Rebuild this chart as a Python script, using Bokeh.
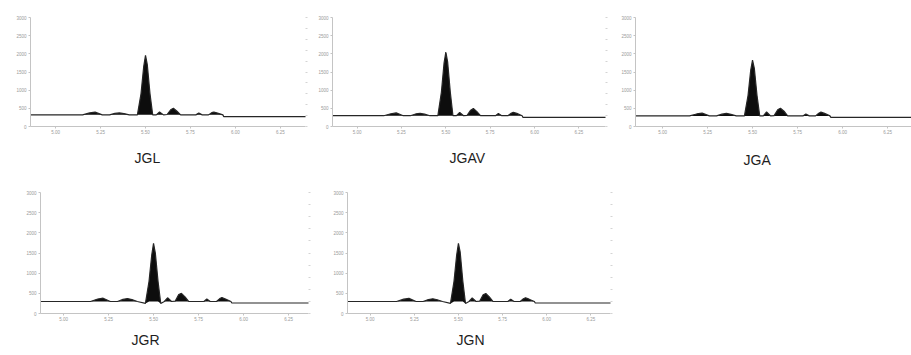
import numpy as np
from bokeh.plotting import figure
from bokeh.layouts import column, row
from bokeh.models import LinearAxis, FixedTicker, Range1d, NumeralTickFormatter, Title
from bokeh.embed import file_html
from bokeh.resources import INLINE

# ---- data -------------------------------------------------------------
names = ["JGL", "JGAV", "JGA", "JGR", "JGN"]
rt = [4.85, 5.15, 5.19, 5.22, 5.26, 5.30, 5.33, 5.355, 5.38, 5.41,
      5.455, 5.475, 5.49, 5.50, 5.51, 5.525, 5.54, 5.56, 5.578, 5.60,
      5.62, 5.64, 5.655, 5.675, 5.695, 5.78, 5.796, 5.815, 5.85, 5.868,
      5.88, 5.90, 5.93, 5.935, 6.41]
jgl = [320, 320, 375, 395, 320, 320, 360, 375, 355, 320,
       320, 900, 1650, 1960, 1700, 900, 320, 320, 400, 320,
       330, 460, 500, 420, 320, 320, 370, 320, 320, 380,
       400, 370, 320, 270, 270]
jgav = [297, 297, 350, 375, 297, 297, 345, 360, 340, 297,
        297, 950, 1750, 2050, 1780, 950, 297, 297, 390, 297,
        305, 450, 495, 410, 297, 297, 355, 297, 297, 365,
        390, 360, 297, 250, 250]
jga = [292, 292, 345, 370, 292, 292, 340, 360, 335, 292,
       292, 850, 1550, 1830, 1600, 850, 292, 292, 400, 292,
       300, 460, 505, 420, 292, 292, 345, 292, 292, 365,
       395, 360, 292, 250, 250]
jgr = [298, 298, 360, 380, 298, 298, 350, 370, 345, 298,
       250, 800, 1450, 1740, 1500, 800, 250, 298, 390, 298,
       305, 470, 500, 410, 298, 298, 360, 298, 298, 370,
       395, 360, 298, 260, 260]
jgn = [298, 298, 355, 375, 298, 298, 345, 365, 340, 298,
       250, 800, 1450, 1740, 1520, 800, 250, 298, 385, 298,
       305, 465, 495, 410, 298, 298, 355, 298, 298, 365,
       390, 355, 298, 260, 260]
baselines = [320, 297, 292, 298, 298]
x_ticks = [5.00, 5.25, 5.50, 5.75, 6.00, 6.25]
y_ticks = [0, 500, 1000, 1500, 2000, 2500, 3000]
y_minor = [0, 300, 600, 900, 1200, 1500, 1800, 2100, 2400, 2700, 3000]


def panel(name, y, base, w, h, bl, br, bt, bb, xr, toff, tstand, right_axis):
    p = figure(width=w, height=h, output_backend="svg", toolbar_location=None,
               x_range=Range1d(*xr), y_range=Range1d(0, 3000),
               min_border_left=bl, min_border_right=br,
               min_border_top=bt, min_border_bottom=bb, title=None)
    p.outline_line_color = None
    p.grid.visible = False
    p.background_fill_color = "white"
    p.border_fill_color = "white"

    x = np.array(rt)
    yy = np.array(y, dtype=float)
    floor = np.minimum(yy, base)
    p.varea(x=x, y1=floor, y2=yy, fill_color="#0d0d0d")
    p.line(x, yy, line_color="#262626", line_width=1.2)

    for ax in (p.xaxis[0], p.yaxis[0]):
        ax.axis_line_color = "#c4c4c4"
        ax.axis_line_width = 1
        ax.major_tick_line_color = "#c4c4c4"
        ax.major_tick_out = 2
        ax.major_tick_in = 0
        ax.minor_tick_line_color = None
        ax.major_label_text_font = "Liberation Sans"
        ax.major_label_text_font_size = "4.5px"
        ax.major_label_text_color = "#9a9a9a"
        ax.major_label_standoff = 2
    p.xaxis[0].major_label_standoff = 1
    p.xaxis[0].ticker = FixedTicker(ticks=x_ticks)
    p.xaxis[0].formatter = NumeralTickFormatter(format="0.00")
    p.yaxis[0].ticker = FixedTicker(ticks=y_ticks)

    if right_axis:
        ra = LinearAxis(ticker=FixedTicker(ticks=y_minor))
        ra.axis_line_color = None
        ra.major_tick_line_color = "#d4d4d4"
        ra.major_tick_out = 2
        ra.major_tick_in = 0
        ra.minor_tick_line_color = None
        ra.major_label_text_font_size = "0px"
        ra.major_label_text_color = None
        p.add_layout(ra, "right")

    t = Title(text=name, align="left", offset=toff, standoff=tstand,
              text_font="Liberation Sans", text_font_size="14px",
              text_font_style="normal", text_color="#1e1e1e")
    p.add_layout(t, "below")
    return p


p1 = panel(names[0], jgl, baselines[0], 315, 180, 30, 10, 15, 52,
           (4.861, 6.389), 104, 23, True)
p2 = panel(names[1], jgav, baselines[1], 300, 180, 13, 10, 17, 52,
           (4.861, 6.40), 117, 23, True)
p3 = panel(names[2], jga, baselines[2], 296, 180, 20, 0, 13, 54,
           (4.85, 6.383), 108, 26, False)
p4 = panel(names[3], jgr, baselines[3], 330, 175, 40, 22, 12, 42,
           (4.872, 6.361), 91, 13, True)
p5 = panel(names[4], jgn, baselines[4], 290, 175, 12, 10, 12, 42,
           (4.872, 6.361), 109, 13, True)

layout = column(row(p1, p2, p3), row(p4, p5))
open("out.html", "w").write(file_html(layout, INLINE))
